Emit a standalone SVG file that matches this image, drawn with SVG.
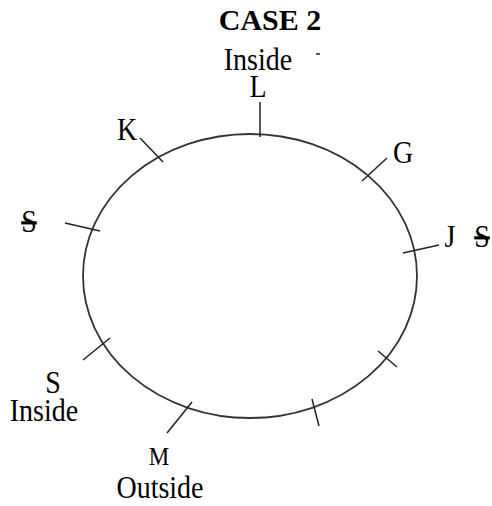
<svg xmlns="http://www.w3.org/2000/svg" width="492" height="506" viewBox="0 0 492 506">
<style>
text{font-family:"Liberation Serif","Times New Roman",serif;fill:#000;text-anchor:middle}
.t{font-size:28px}
.m{font-size:23px}
.b{font-size:30px;font-weight:bold}
.st{text-decoration:line-through}
.tk{stroke:#222;stroke-width:1.5;fill:none}
</style>
<rect width="492" height="506" fill="#fff"/>
<g id="title"><text class="b" x="270" y="30">CASE 2</text></g>
<g id="ring"><ellipse cx="250" cy="276" rx="167" ry="142" fill="none" stroke="#333" stroke-width="1.8"/></g>
<g id="connectors">
<line class="tk" x1="260" y1="102" x2="260" y2="137"/>
<line class="tk" x1="140" y1="138" x2="163" y2="162"/>
<line class="tk" x1="65" y1="223" x2="100" y2="231"/>
<line class="tk" x1="362" y1="181" x2="387" y2="158"/>
<line class="tk" x1="403" y1="253" x2="439" y2="245"/>
<line class="tk" x1="83" y1="360" x2="110" y2="338"/>
<line class="tk" x1="167" y1="433" x2="192" y2="402"/>
<line class="tk" x1="378" y1="351" x2="397" y2="367"/>
<line class="tk" x1="312" y1="399" x2="319" y2="426"/>
<line class="tk" x1="316" y1="54" x2="320" y2="54"/>
</g>
<g id="L"><text class="t" transform="translate(258,70) scale(1,1.12)">Inside</text><text class="t" transform="translate(258,97) scale(1,1.12)">L</text></g>
<g id="K"><text class="t" transform="translate(127,140) scale(1,1.12)">K</text></g>
<g id="G"><text class="t" transform="translate(403,163) scale(1,1.12)">G</text></g>
<g id="J"><text class="t" transform="translate(450,247) scale(1,1.12)">J</text><text class="t st" transform="translate(482,247) scale(1,1.12)">S</text></g>
<g id="S1"><text class="t st" transform="translate(29,232) scale(1,1.12)">S</text></g>
<g id="S2"><text class="t" transform="translate(53,393) scale(1,1.12)">S</text><text class="t" transform="translate(44,421) scale(1,1.12)">Inside</text></g>
<g id="M"><text class="m" transform="translate(159,465) scale(1,1.12)">M</text><text class="t" transform="translate(160,498) scale(1,1.12)">Outside</text></g>
</svg>
